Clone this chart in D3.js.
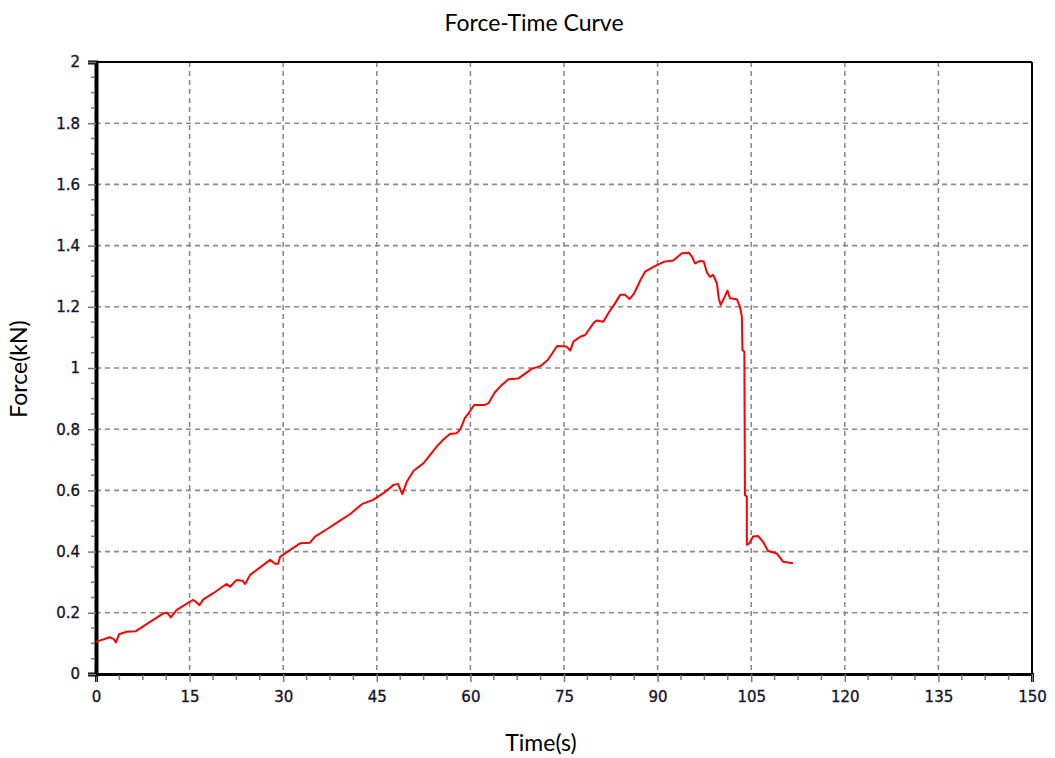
<!DOCTYPE html>
<html>
<head>
<meta charset="utf-8">
<script src="https://cdn.jsdelivr.net/npm/d3@7"></script>
<style>
  html, body { margin: 0; padding: 0; background: #fff; }
  svg { display: block; }
</style>
</head>
<body>
<svg id="chart" width="1055" height="758"></svg>
<script>
// Sampled force reading over time: seconds and kilonewtons
const timeS = [
  0, 2.2, 2.8, 3.2, 3.7, 4.9, 6.4, 8.1, 10.8, 11.4, 12.0, 12.9, 14.8, 15.6, 16.0, 16.6,
  17.2, 18.8, 20.9, 21.5, 22.5, 23.5, 23.9, 24.7, 27.9, 28.7, 29.2, 29.5, 30.3, 32.7,
  34.3, 35.1, 37.0, 39.1, 40.7, 42.6, 44.4, 46.0, 47.7, 48.4, 48.8, 49.1, 49.8, 50.9,
  52.5, 54.6, 55.6, 56.7, 57.8, 58.4, 59.1, 59.7, 60.6, 62.3, 62.9, 63.9, 65.0, 66.1,
  67.7, 69.0, 69.8, 71.2, 72.4, 73.9, 75.4, 76.0, 76.5, 77.6, 78.4, 79.7, 80.2, 81.3,
  82.1, 83.2, 84.0, 84.8, 85.5, 86.2, 87.2, 88.0, 89.4, 91.0, 92.5, 93.9, 95.0, 95.5,
  96.0, 96.8, 97.4, 97.9, 98.4, 98.9, 99.5, 99.8, 100.1, 100.5, 101.2, 101.6, 102.7,
  103.2, 103.5, 103.6, 103.9, 104.0, 104.3, 104.3, 104.7, 105.3, 106.1, 106.9, 107.7,
  109.1, 110.1, 111.7
];
const forceKN = [
  0.105, 0.12, 0.115, 0.103, 0.13, 0.138, 0.14, 0.163, 0.198, 0.2, 0.185, 0.209, 0.233, 0.242, 0.236, 0.225,
  0.244, 0.264, 0.294, 0.285, 0.307, 0.305, 0.294, 0.324, 0.373, 0.36, 0.36, 0.383, 0.394, 0.427,
  0.429, 0.449, 0.473, 0.501, 0.522, 0.555, 0.569, 0.59, 0.618, 0.621, 0.601, 0.588, 0.628, 0.664,
  0.689, 0.743, 0.765, 0.784, 0.787, 0.8, 0.836, 0.852, 0.879, 0.879, 0.885, 0.92, 0.944, 0.963,
  0.966, 0.985, 0.997, 1.006, 1.026, 1.072, 1.07, 1.057, 1.086, 1.102, 1.108, 1.146, 1.155, 1.151,
  1.179, 1.212, 1.239, 1.239, 1.225, 1.242, 1.285, 1.315, 1.331, 1.347, 1.351, 1.375, 1.377, 1.364,
  1.342, 1.35, 1.348, 1.312, 1.298, 1.304, 1.277, 1.228, 1.206, 1.222, 1.253, 1.228, 1.225,
  1.2, 1.168, 1.059, 1.053, 0.585, 0.58, 0.422, 0.427, 0.449, 0.451, 0.432, 0.402,
  0.394, 0.367, 0.362
];

const xTickValues = [0, 15, 30, 45, 60, 75, 90, 105, 120, 135, 150];
const yTickValues = [0, 0.2, 0.4, 0.6, 0.8, 1, 1.2, 1.4, 1.6, 1.8, 2];
const titleText = "Force-Time Curve";
const xTitle = "Time(s)";
const yTitle = "Force(kN)";

const svg = d3.select("#chart");
const plotLeft = 96, plotRight = 1032, plotTop = 62, plotBottom = 674;

const x = d3.scaleLinear().domain([0, 150]).range([plotLeft, plotRight]);
const y = d3.scaleLinear().domain([0, 2]).range([plotBottom, plotTop]);

const tickFont = "'DejaVu Sans', Verdana, sans-serif";
const titleFont = "Lato, 'Open Sans', sans-serif";

// Dashed grid
const grid = svg.append("g");
grid.selectAll("line.v").data(xTickValues.slice(1, -1)).join("line")
  .attr("class", "v")
  .attr("x1", d => x(d)).attr("x2", d => x(d))
  .attr("y1", plotTop).attr("y2", plotBottom)
  .attr("stroke", "#8c8c8c").attr("stroke-width", 1.6).attr("stroke-dasharray", "5,4");
grid.selectAll("line.h").data(yTickValues.slice(1, -1)).join("line")
  .attr("class", "h")
  .attr("x1", plotLeft).attr("x2", plotRight)
  .attr("y1", d => y(d)).attr("y2", d => y(d))
  .attr("stroke", "#8c8c8c").attr("stroke-width", 1.6).attr("stroke-dasharray", "5,4");

// Top and right frame
svg.append("line").attr("x1", plotLeft).attr("x2", plotRight).attr("y1", plotTop).attr("y2", plotTop)
  .attr("stroke", "#000").attr("stroke-width", 2);
svg.append("line").attr("x1", plotRight).attr("x2", plotRight).attr("y1", plotTop).attr("y2", plotBottom)
  .attr("stroke", "#000").attr("stroke-width", 2);

// Bottom axis: major ticks every 15 s, minor every 3.75 s
const xMinor = d3.range(0, 150.01, 3.75).filter(v => Math.abs(v % 15) > 1e-6);
const xAxis = svg.append("g").attr("transform", `translate(0,${plotBottom})`);
xAxis.call(d3.axisBottom(x).tickValues(xTickValues).tickFormat(d3.format("d")).tickSize(8).tickPadding(9))
  .call(g => g.select(".domain").attr("stroke-width", 3))
  .call(g => g.selectAll(".tick line").attr("stroke", "#777").attr("stroke-width", 1.5))
  .call(g => g.selectAll("text").attr("font-family", tickFont).attr("font-size", 15)
    .attr("fill", "#151528").attr("stroke", "#151528").attr("stroke-width", 0.35));
xAxis.selectAll("line.minor").data(xMinor).join("line")
  .attr("class", "minor")
  .attr("x1", d => x(d)).attr("x2", d => x(d)).attr("y1", 1).attr("y2", 6)
  .attr("stroke", "#777").attr("stroke-width", 1.5);

// Left axis: major ticks every 0.2 kN, minor every 0.05 kN
const yMinor = d3.range(0, 2.001, 0.05).filter(v => Math.abs((v / 0.2) - Math.round(v / 0.2)) > 1e-6);
const yAxis = svg.append("g").attr("transform", `translate(${plotLeft},0)`);
yAxis.call(d3.axisLeft(y).tickValues(yTickValues).tickFormat(d => d3.format("~g")(d)).tickSize(8).tickPadding(8))
  .call(g => g.select(".domain").attr("stroke-width", 4))
  .call(g => g.selectAll(".tick line").attr("stroke", "#777").attr("stroke-width", 1.5))
  .call(g => g.selectAll("text").attr("font-family", tickFont).attr("font-size", 15)
    .attr("fill", "#151528").attr("stroke", "#151528").attr("stroke-width", 0.35));
yAxis.selectAll("line.minor").data(yMinor).join("line")
  .attr("class", "minor")
  .attr("x1", -5).attr("x2", -1).attr("y1", d => y(d)).attr("y2", d => y(d))
  .attr("stroke", "#777").attr("stroke-width", 1.5);

// Force curve
const pts = timeS.map((t, i) => [t, forceKN[i]]);
svg.append("path")
  .datum(pts)
  .attr("fill", "none")
  .attr("stroke", "#ff0000")
  .attr("stroke-width", 2)
  .attr("stroke-linejoin", "round")
  .attr("d", d3.line().x(d => x(d[0])).y(d => y(d[1])));

// Titles
svg.append("text").attr("x", 534).attr("y", 31).attr("text-anchor", "middle")
  .attr("font-family", titleFont).attr("font-size", 23).attr("fill", "#000").text(titleText);
svg.append("text").attr("x", 541).attr("y", 751).attr("text-anchor", "middle")
  .attr("font-family", titleFont).attr("font-size", 23).attr("fill", "#000").text(xTitle);
svg.append("text").attr("transform", "translate(27,369) rotate(-90)").attr("text-anchor", "middle")
  .attr("font-family", titleFont).attr("font-size", 23).attr("fill", "#000").text(yTitle);
</script>
</body>
</html>
